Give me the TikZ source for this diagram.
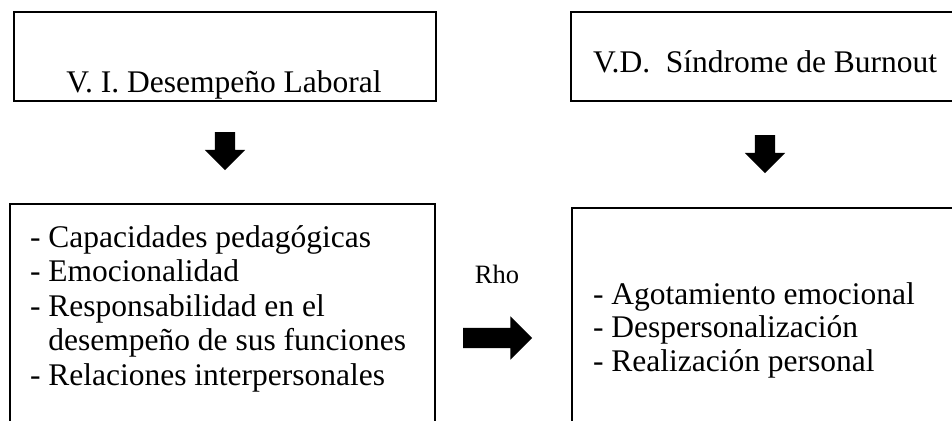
\documentclass[tikz,border=0pt]{standalone}
\usepackage{fontspec}
\setmainfont{Liberation Serif}
\usetikzlibrary{shapes.arrows}

\begin{document}
\begin{tikzpicture}[x=1pt,y=-1pt]
\tikzstyle{every node}=[inner sep=0pt,outer sep=0pt]
\tikzstyle{box}=[draw,line width=1.8pt,rectangle]
\tikzstyle{txt}=[font=\fontsize{31.5}{34}\selectfont,anchor=base west]
\tikzstyle{blockarrow}=[single arrow,fill=black,minimum height=38pt,inner xsep=0pt,inner ysep=10pt,single arrow head extend=10pt]
\useasboundingbox (0,0) rectangle (952,420);
\clip (0,0) rectangle (952,420);
\node[box,minimum width=422pt,minimum height=89pt] (vi) at (225,56.5) {};
\node[box,minimum width=419pt,minimum height=89pt] (vd) at (780.5,56.5) {};
\node[box,minimum width=425pt,minimum height=236pt] (dimvi) at (222.5,322) {};
\node[box,minimum width=418pt,minimum height=232pt] (dimvd) at (781,324) {};
\node[txt,anchor=base] (vitxt) at (224,92) {V. I. Desempeño Laboral};
\node[txt] (vdtxt) at (593,72) {V.D.\ \ Síndrome de Burnout};
\node[txt] (cap) at (30,247) {- Capacidades pedagógicas};
\node[txt] (emo) at (30,281.5) {- Emocionalidad};
\node[txt] (resp) at (30,316) {- Responsabilidad en el};
\node[txt] (respb) at (30,350.5) {\phantom{- }desempeño de sus funciones};
\node[txt] (rel) at (30,385) {- Relaciones interpersonales};
\node[txt] (ago) at (593,304) {- Agotamiento emocional};
\node[txt] (desp) at (593,337.5) {- Despersonalización};
\node[txt] (real) at (593,371) {- Realización personal};
\node[font=\fontsize{26.5}{28}\selectfont,anchor=base] (rho) at (497,283) {Rho};
\node[blockarrow,rotate=-90] (downl) at (225,146) {};
\node[blockarrow,rotate=-90] (downr) at (765,149) {};
\node[blockarrow,minimum height=69pt,single arrow head extend=11.5pt] (corr) at (492.5,338) {};
\end{tikzpicture}
\end{document}
